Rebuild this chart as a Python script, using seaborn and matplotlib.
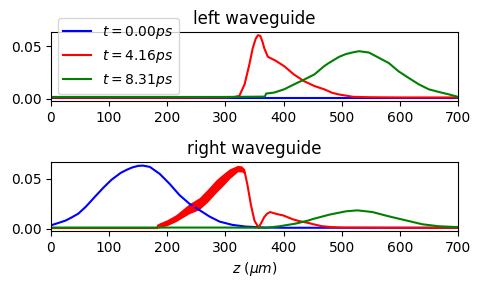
import matplotlib
matplotlib.use("Agg")
import matplotlib.pyplot as plt
import seaborn as sns

labels = [r"$t=0.00ps$", r"$t=4.16ps$", r"$t=8.31ps$"]
colors = ["blue", "red", "green"]

# left waveguide
blue_left_z = [0, 100, 200, 300, 400, 500, 600, 700]
blue_left = [0.0005, 0.0005, 0.0005, 0.0005, 0.0005, 0.0005, 0.0005, 0.0005]

red_left_z = [0, 100, 200, 300, 316, 324, 333, 341, 347, 352, 356, 360, 364,
              367, 373, 380, 387, 401, 418, 435, 453, 470, 484, 496, 507, 520,
              550, 600, 700]
red_left = [0.0008, 0.0008, 0.0008, 0.001, 0.0015, 0.0025, 0.0135, 0.032, 0.048,
            0.057, 0.0606, 0.060, 0.054, 0.048, 0.040, 0.038, 0.036, 0.031,
            0.023, 0.0167, 0.012, 0.0088, 0.0054, 0.0038, 0.0028, 0.0016,
            0.0012, 0.001, 0.001]

green_left_z = [0, 100, 200, 300, 368, 370, 384, 401, 418, 435, 453, 470, 478,
                487, 496, 507, 518, 530, 547, 564, 581, 598, 615, 633, 650, 667,
                684, 698, 700]
green_left = [0.0015, 0.0015, 0.0015, 0.0015, 0.0018, 0.0047, 0.0057, 0.0088,
              0.0135, 0.018, 0.023, 0.031, 0.034, 0.037, 0.040, 0.0425, 0.044,
              0.0453, 0.044, 0.039, 0.034, 0.026, 0.0198, 0.0135, 0.0088,
              0.0063, 0.004, 0.0019, 0.0015]

# right waveguide
blue_right_z = [0, 12, 25, 35, 47, 60, 75, 90, 104, 120, 130, 140, 150, 158, 170,
                187, 204, 221, 238, 255, 273, 290, 312, 335, 370, 400, 500, 600, 700]
blue_right = [0.0033, 0.0055, 0.008, 0.011, 0.015, 0.022, 0.0316, 0.041, 0.049,
              0.056, 0.059, 0.0615, 0.063, 0.0633, 0.062, 0.055, 0.045, 0.0337,
              0.025, 0.0187, 0.012, 0.007, 0.0037, 0.002, 0.001, 0.0008, 0.0008,
              0.0008, 0.0008]

red_right_z = [0, 100, 183, 184, 200, 215, 238, 255, 270, 284, 296, 307, 315,
               321, 328, 333, 338, 344, 350, 357, 362, 367, 372, 377, 386, 393,
               399, 416, 427, 444, 450, 465, 479, 500, 600, 700]
red_right = [0.0005, 0.0005, 0.0005, 0.003, 0.006, 0.0105, 0.020, 0.025, 0.0335,
             0.0425, 0.049, 0.055, 0.058, 0.060, 0.060, 0.0575, 0.0437, 0.0236,
             0.008, 0.001, 0.006, 0.0117, 0.015, 0.0166, 0.015, 0.014, 0.0133,
             0.0093, 0.0075, 0.0055, 0.0045, 0.0025, 0.0016, 0.001, 0.0008, 0.0008]

# envelope of the fast oscillation in the red curve
red_band_z = [184, 200, 215, 238, 255, 270, 284, 296, 307, 315, 321, 328, 333]
red_band_lo = [0.0005, 0.003, 0.007, 0.015, 0.019, 0.027, 0.036, 0.043, 0.050,
               0.054, 0.057, 0.057, 0.055]
red_band_hi = [0.005, 0.009, 0.014, 0.025, 0.031, 0.040, 0.049, 0.055, 0.060,
               0.062, 0.0636, 0.063, 0.060]

green_right_z = [0, 100, 200, 300, 360, 370, 393, 421, 444, 450, 479, 507, 527,
                 553, 581, 610, 639, 667, 695, 700]
green_right = [0.001, 0.001, 0.001, 0.001, 0.0008, 0.0008, 0.0023, 0.005,
               0.0083, 0.0095, 0.014, 0.0173, 0.0183, 0.0166, 0.0123, 0.0083,
               0.0043, 0.0023, 0.0016, 0.0016]

fig, (ax1, ax2) = plt.subplots(2, 1, figsize=(4.81, 2.89), dpi=100)

left = [(blue_left_z, blue_left), (red_left_z, red_left), (green_left_z, green_left)]
for (z, v), c, lab in zip(left, colors, labels):
    sns.lineplot(x=z, y=v, color=c, label=lab, ax=ax1)
ax1.set_title("left waveguide")
ax1.set_xlim(0, 700)
ax1.legend(loc="upper left", bbox_to_anchor=(0.0, 1.3))

ax2.fill_between(red_band_z, red_band_lo, red_band_hi, color="red", lw=0)
right = [(blue_right_z, blue_right), (red_right_z, red_right), (green_right_z, green_right)]
for (z, v), c in zip(right, colors):
    sns.lineplot(x=z, y=v, color=c, ax=ax2)
ax2.set_title("right waveguide")
ax2.set_xlim(0, 700)
ax2.set_xlabel(r"$z$ ($\mu m$)")

for ax in (ax1, ax2):
    ax.set_ylabel("")

fig.subplots_adjust(left=0.106, right=0.952, top=0.889, bottom=0.2, hspace=0.884)
fig.savefig("out.png")
